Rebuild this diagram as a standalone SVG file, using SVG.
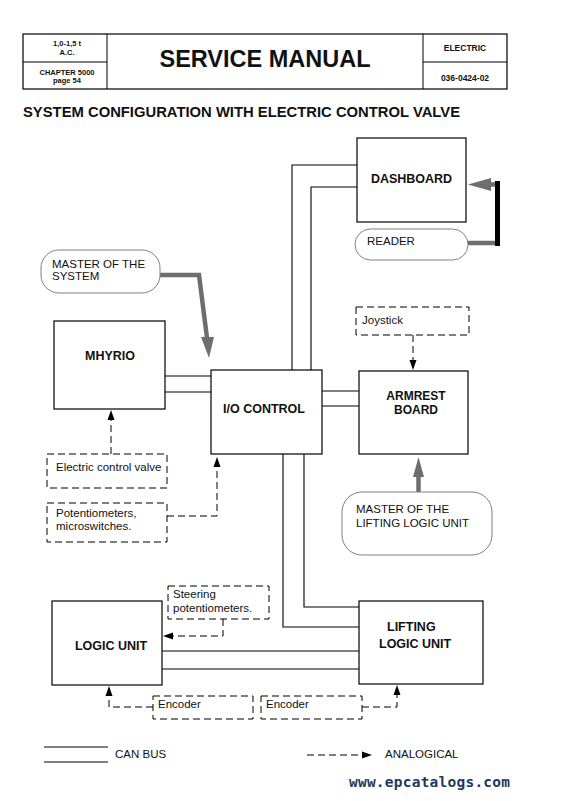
<svg xmlns="http://www.w3.org/2000/svg" width="561" height="801" viewBox="0 0 561 801">
<defs>
<style>
.box{fill:#fff;stroke:#000;stroke-width:1.2}
.dbox{fill:none;stroke:#000;stroke-width:1;stroke-dasharray:7 4}
.bub{fill:#fff;stroke:#808080;stroke-width:1}
.ln{fill:none;stroke:#000;stroke-width:1.1}
.dl{fill:none;stroke:#000;stroke-width:1;stroke-dasharray:7 4}
.ah{fill:#000}
.gray{fill:#6e6e6e}
.gl{fill:none;stroke:#6e6e6e;stroke-width:4.5}
text{font-family:"Liberation Sans",Arial,sans-serif;fill:#111}
.r{font-size:11.5px}
.b{font-size:12.5px;font-weight:bold}
.h{font-size:7.5px;font-weight:bold}
.h2{font-size:8.5px;font-weight:bold}
</style>
</defs>
<rect width="561" height="801" fill="#fff"/>
<g id="header">
<rect x="23" y="34" width="484" height="55" fill="none" stroke="#000" stroke-width="1.2"/>
<path d="M107,34V89M423,34V89M23,62H107M423,62H507" stroke="#000" stroke-width="1" fill="none"/>
<text class="h" x="67" y="46" text-anchor="middle">1,0-1,5 t</text>
<text class="h" x="67" y="55" text-anchor="middle">A.C.</text>
<text class="h" x="67" y="75" text-anchor="middle">CHAPTER 5000</text>
<text class="h" x="67" y="83" text-anchor="middle">page 54</text>
<text x="265" y="67" text-anchor="middle" style="font-size:23.5px;font-weight:bold">SERVICE MANUAL</text>
<text class="h2" x="465" y="51" text-anchor="middle">ELECTRIC</text>
<text class="h2" x="465" y="81" text-anchor="middle">036-0424-02</text>
</g>
<text x="23" y="117" style="font-size:14.8px;font-weight:bold">SYSTEM CONFIGURATION WITH ELECTRIC CONTROL VALVE</text>
<g id="connectors">
<path class="ln" d="M292,371V165H357M311,371V187H357"/>
<path class="ln" d="M165,376H211M165,392H211"/>
<path class="ln" d="M322,391H359M322,406H359"/>
<path class="ln" d="M304,454V607H359M283,454V627H359"/>
<path class="ln" d="M162,651H359M162,669H359"/>
<path class="dl" d="M111,454V419"/>
<polygon class="ah" points="111,410 107.5,420 114.5,420"/>
<path class="dl" d="M167,516H217V466"/>
<polygon class="ah" points="217,457 213.5,467 220.5,467"/>
<path class="dl" d="M413,335V361"/>
<polygon class="ah" points="413,370 409.5,360 416.5,360"/>
<path class="dl" d="M223,619V636H173"/>
<polygon class="ah" points="163,636 173,632.5 173,639.5"/>
<path class="dl" d="M153,707H109V695"/>
<polygon class="ah" points="109,686 105.5,696 112.5,696"/>
<path class="dl" d="M362,707H397V694"/>
<polygon class="ah" points="397,685 393.5,695 400.5,695"/>
<path class="gl" d="M160,275H199L207,338"/>
<polygon class="gray" points="201,337 214,337 209,358"/>
<rect x="495" y="181" width="5" height="65" fill="#000"/>
<path class="gl" d="M468,243H495M489,184.5H495"/>
<polygon class="gray" points="468,184.5 491,178 491,191"/>
<path class="gl" d="M418.5,492V476"/>
<polygon class="gray" points="418.5,457 413,477 424,477"/>
</g>
<g id="dashboard">
<rect class="box" x="357" y="138" width="109" height="84"/>
<text class="b" x="411.5" y="183" text-anchor="middle">DASHBOARD</text>
</g>
<g id="reader">
<rect class="bub" x="355" y="229" width="113" height="31" rx="15.5"/>
<text class="r" x="367" y="245">READER</text>
</g>
<g id="master-system">
<rect class="bub" x="41" y="250" width="119" height="43" rx="18"/>
<text class="r" x="52" y="268">MASTER OF THE</text>
<text class="r" x="52" y="280">SYSTEM</text>
</g>
<g id="mhyrio">
<rect class="box" x="54" y="321" width="111" height="88"/>
<text class="b" x="110" y="360" text-anchor="middle">MHYRIO</text>
</g>
<g id="io-control">
<rect class="box" x="211" y="370" width="111" height="84"/>
<text class="b" x="264" y="413" text-anchor="middle">I/O CONTROL</text>
</g>
<g id="joystick">
<rect class="dbox" x="356" y="307" width="113" height="28"/>
<text class="r" x="362" y="324">Joystick</text>
</g>
<g id="armrest">
<rect class="box" x="359" y="371" width="109" height="83"/>
<text x="416" y="400" text-anchor="middle" style="font-size:12px;font-weight:bold">ARMREST</text>
<text x="416" y="414" text-anchor="middle" style="font-size:12px;font-weight:bold">BOARD</text>
</g>
<g id="valve">
<rect class="dbox" x="47" y="454" width="120" height="34"/>
<text class="r" x="56" y="471">Electric control valve</text>
</g>
<g id="potentiometers">
<rect class="dbox" x="47" y="503" width="120" height="39"/>
<text class="r" x="56" y="517">Potentiometers,</text>
<text class="r" x="56" y="530">microswitches.</text>
</g>
<g id="master-lifting">
<rect class="bub" x="342" y="492" width="150" height="63" rx="20"/>
<text class="r" x="356" y="513">MASTER OF THE</text>
<text class="r" x="356" y="527">LIFTING LOGIC UNIT</text>
</g>
<g id="steering">
<rect class="dbox" x="168" y="586" width="101" height="33"/>
<text class="r" x="173" y="598">Steering</text>
<text class="r" x="173" y="612">potentiometers.</text>
</g>
<g id="logic-unit">
<rect class="box" x="52" y="601" width="110" height="84"/>
<text class="b" x="111" y="650" text-anchor="middle">LOGIC UNIT</text>
</g>
<g id="lifting-logic-unit">
<rect class="box" x="359" y="601" width="124" height="83"/>
<text class="b" x="387" y="631">LIFTING</text>
<text class="b" x="379" y="648">LOGIC UNIT</text>
</g>
<g id="encoder1">
<rect class="dbox" x="153" y="696" width="100" height="23"/>
<text class="r" x="158" y="708">Encoder</text>
</g>
<g id="encoder2">
<rect class="dbox" x="261" y="696" width="101" height="23"/>
<text class="r" x="266" y="708">Encoder</text>
</g>
<g id="legend">
<path class="ln" d="M44,747H108M44,762H108"/>
<text class="r" x="115" y="758">CAN BUS</text>
<path class="dl" d="M307,755H363"/>
<polygon class="ah" points="372,755 362,751.5 362,758.5"/>
<text class="r" x="385" y="758">ANALOGICAL</text>
</g>
<text x="349" y="787" textLength="161" style="font-family:'DejaVu Sans Mono',monospace;font-size:14.5px;font-weight:bold;fill:#1e3a5c">www.epcatalogs.com</text>
</svg>
